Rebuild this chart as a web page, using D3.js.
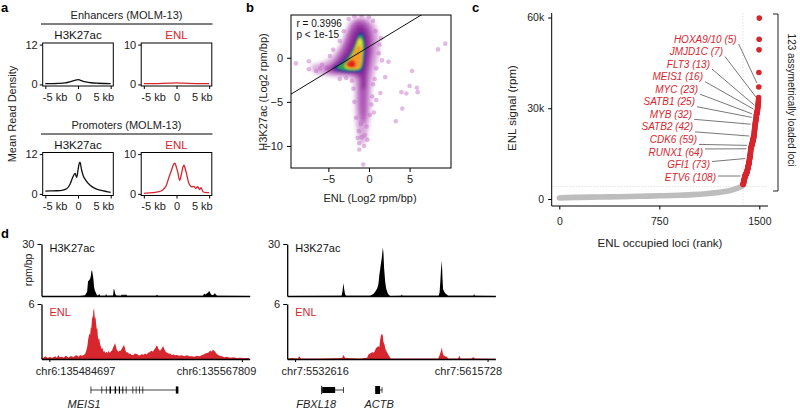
<!DOCTYPE html>
<html><head><meta charset="utf-8">
<script src="https://cdn.jsdelivr.net/npm/d3@7"></script>
<style>
body{margin:0;background:#fff;}
svg{display:block;font-family:"Liberation Sans",Arial,Helvetica,sans-serif;}
</style></head><body>
<svg id="fig" width="800" height="411"></svg>
<script>
// ================= DATA =================
// Panel a: meta-profiles (kb from center, mean read density)
const profileTicks = [-5, 0, 5];
const profileTickLabels = ["-5 kb", "0", "5 kb"];
const enhH3K27acMax = 12, enhENLMax = 10, proH3K27acMax = 12, proENLMax = 10;
const enhH3K27ac = [[-5,0.25],[-4,0.25],[-3,0.3],[-2,0.45],[-1.5,0.65],[-1,0.9],[-0.5,1.2],[-0.2,1.4],[0,1.45],[0.3,1.3],[0.7,1.0],[1.2,0.75],[2,0.5],[3,0.35],[4,0.28],[5,0.25]];
const enhENL = [[-5,0.2],[-3,0.2],[-1,0.3],[0,0.4],[1,0.3],[3,0.22],[5,0.2]];
const proH3K27ac = [[-5,0.85],[-4.3,0.9],[-3.3,0.95],[-2.3,1.15],[-1.7,1.6],[-1.2,3.0],[-0.8,5.0],[-0.45,6.2],[-0.2,5.0],[-0.05,6.5],[0.15,8.9],[0.3,9.6],[0.55,7.2],[0.8,5.5],[1.2,4.1],[1.85,2.6],[2.6,1.65],[3.4,1.15],[4.4,0.7],[5,0.45]];
const proENL = [[-5,0.15],[-3.6,0.3],[-2.85,0.5],[-2.1,1.0],[-1.55,2.2],[-1.15,4.2],[-0.8,5.8],[-0.45,7.4],[-0.25,7.7],[0,6.6],[0.2,5.4],[0.48,3.4],[0.75,5.0],[1.0,6.8],[1.15,7.2],[1.35,6.2],[1.6,4.6],[1.9,2.6],[2.3,1.8],[2.65,1.9],[2.95,1.4],[3.25,1.8],[3.55,1.1],[3.75,1.6],[4.05,0.55],[4.6,0.3],[5,0.3]];

// Panel b: ENL vs H3K27ac (log2 rpm/bp)
const bTicksX = [-5, 0, 5];
const bTicksY = [0, -5, -10];
const corrR = "0.3996", corrP = "1e-15";
const fitIntercept = 1.25, fitSlope = 0.56;
const haloOuter = [[-7.2,-1.0],[-6,-0.6],[-5,-0.2],[-4,0.8],[-3.3,2.0],[-2.8,3.2],[-2.2,4.2],[-1.3,4.6],[-0.2,4.5],[0.7,3.8],[1.2,2.5],[1.3,1.0],[1.0,-0.5],[0.6,-2],[0.3,-4],[0.2,-6],[-0.1,-8],[-0.4,-9.5],[-1.0,-9.8],[-1.5,-8],[-1.7,-5.5],[-1.8,-3.2],[-2.2,-2.3],[-3.5,-2.2],[-5,-2.0],[-6.5,-1.8]];
const haloMid = [[-5.5,-1.2],[-4.5,-0.6],[-3.6,0.6],[-3.0,1.8],[-2.5,3.0],[-2.0,3.9],[-1.2,4.3],[-0.4,4.1],[0.2,3.4],[0.5,2.2],[0.5,0.8],[0.2,-0.8],[-0.1,-2.5],[-0.2,-5],[-0.4,-7],[-0.8,-7.5],[-1.2,-6],[-1.3,-4],[-1.4,-2.3],[-2.5,-1.9],[-4,-1.8],[-5.2,-1.6]];
const haloInner = [[-4.8,-1.2],[-3.9,-0.5],[-3.0,0.6],[-2.4,1.8],[-1.9,3.0],[-1.4,3.6],[-0.8,3.7],[-0.3,3.1],[0,2],[0,0.5],[-0.2,-0.8],[-0.4,-2],[-0.5,-3.5],[-0.9,-3.5],[-1.0,-2.2],[-1.5,-1.8],[-2.5,-1.75],[-4,-1.6]];
const densityBlue = [[-4.3,-1.15],[-3.5,-0.6],[-2.6,0.2],[-1.9,1.2],[-1.5,2.2],[-1.2,2.8],[-0.9,2.9],[-0.6,2.4],[-0.45,1.2],[-0.55,0],[-0.7,-1.1],[-1.0,-1.55],[-2.0,-1.65],[-3.2,-1.55],[-4.0,-1.4]];
const densityGreen = [[-3.9,-1.1],[-3.2,-0.6],[-2.5,0.1],[-1.9,1.1],[-1.5,2.0],[-1.2,2.5],[-0.95,2.55],[-0.7,2.1],[-0.6,1.0],[-0.7,0],[-0.85,-1.0],[-1.1,-1.35],[-2.0,-1.45],[-3.2,-1.35]];
const densityYellow = [[-3.0,-0.9],[-2.4,-0.2],[-1.8,0.8],[-1.45,1.7],[-1.15,2.2],[-0.9,2.0],[-0.8,1.0],[-0.85,0],[-1.0,-0.9],[-1.3,-1.25],[-2.2,-1.3],[-2.8,-1.15]];
const densityOrange = [[-2.9,-0.85],[-2.3,-0.2],[-1.8,0.6],[-1.4,1.3],[-1.1,1.4],[-0.95,0.6],[-1.0,-0.5],[-1.2,-1.1],[-2.1,-1.2],[-2.7,-1.05]];
const densityRed = [[-2.8,-0.8],[-2.4,-0.35],[-2.0,-0.25],[-1.7,-0.5],[-1.7,-1.0],[-2.2,-1.15],[-2.6,-1.0]];
const bOutliers = [[-9.0,-0.64],[-7.4,-0.4],[-7.4,-1.3],[-6.5,-1.5],[-6.0,-1.2],[-5.8,-0.8],[-5.2,-1.2],[-4.8,0.2],[-4.4,0.9],
 [9.4,1.6],[8.5,0.95],[5.3,-1.5],[5.0,-3.2],[5.9,-3.4],[6.0,-3.9],[4.0,-3.9],[4.6,-4.05],[4.1,-5.75],[3.3,-7.2],[1.4,-4.0],[2.4,-0.45],[2.0,-2.2],[1.6,-0.3],[1.2,0.5],[0.9,-1.2],[1.3,1.5],[0.8,3.0],[1.5,2.2],[0.5,-3],[0.7,-2.4],
 [-0.7,-12.1],[-1.2,-10.4],[-1.2,-9.7],[-1.25,-8.3],[-0.9,-9.0],[-0.5,-8.8],[-0.6,-10.0],[-1.0,-7.5],[-0.3,-7.8],[0.1,-6.5],[-1.6,-6.8],[-1.8,-5.0],[0.3,-5.3],[0.4,-4.4],[-1.9,-3.5],[-2.1,-2.6],[-2.8,-2.3],[-3.6,-2.4],[0.9,-4.8],[0.6,-6.2],[-0.2,-9.3],[-1.4,-9.1],
 [-2.5,4.4],[-1.8,4.7],[-0.9,4.8],[0.0,4.6],[0.5,4.2],[-3.1,3.0],[-3.6,1.9]];

// Panel c: ENL occupied loci ranked by signal (k rpm)
const totalLoci = 1500;
const cTicksX = [0, 750, 1500];
const cTicksY = [0, 30, 60];
const grayRanks  = [1, 50, 150, 300, 450, 600, 750, 900, 1000, 1100, 1180, 1240, 1290, 1325, 1350, 1365, 1377];
const graySignal = [0.35,0.45,0.55,0.65,0.75,0.9,1.05,1.25,1.45,1.75,2.1,2.5,2.9,3.4,3.8,4.15,4.5];
// top 123 asymmetrically loaded loci, ordered from rank 1 (highest) downwards
const redSignal = [59.8,52.8,49.3,41.8,37.0,33.5,32.6,32.0,31.5,31.1,30.8,30.4,30.1,29.7,29.3,29.0,28.8,28.6,28.4,28.2,
 28.0,27.8,27.6,27.1,26.7,26.4,26.1,25.8,25.5,25.2,24.9,24.6,24.2,23.8,23.4,23.0,22.6,22.2,21.8,21.4,
 21.0,20.7,20.5,20.3,20.1,19.9,19.7,19.5,19.3,19.1,18.9,18.7,18.5,18.3,18.1,18.0,17.9,17.8,17.7,17.4,
 17.2,17.0,16.8,16.6,16.2,15.8,15.4,15.0,14.6,14.3,14.0,13.7,13.5,13.2,12.9,12.6,12.3,12.0,11.8,11.6,
 11.4,11.2,11.0,10.8,10.6,10.4,10.2,10.0,9.8,9.6,9.4,9.2,9.0,8.9,8.8,8.7,8.6,8.5,8.4,8.3,
 8.2,8.1,8.0,7.9,7.8,7.7,7.65,7.6,7.4,7.2,7.0,6.8,6.6,6.4,6.2,6.0,5.8,5.6,5.4,5.2,5.0,4.9,4.8];
const cutoffSignal = 4.1;
const geneLabels = ["HOXA9/10","JMJD1C","FLT3","MEIS1","MYC","SATB1","MYB","SATB2","CDK6","RUNX1","GFI1","ETV6"];
const geneRanks  = [5,7,13,16,23,25,32,42,59,64,73,108];

// Panel d: genome browser tracks (kb from region start, rpm/bp)
const regionLeft  = {chr:"chr6", start:135484697, end:135567809, gene:"MEIS1"};
const regionRight = {chr:"chr7", start:5532616, end:5615728};
const trackDomainKb = [-3.4, 86.5];
const h3Max = 30, enlMax = 6;
const leftH3K27ac = [[-3.4,0],[13.2,0],[15.4,0.4],[16.3,2.5],[16.7,8.5],[17.1,9],[17.6,10],[17.9,11.5],[18.1,14],[18.4,15],[18.7,12.5],[19.0,10],[19.3,5],[19.7,3],[20.2,1.5],[20.6,0.5],[21.0,0.2],[21.5,1.3],[21.9,0.2],[24.2,0.2],[24.5,1.3],[24.8,0.2],[27.5,0.3],[27.8,4.2],[28.1,3.5],[28.4,1.5],[28.8,0.3],[30.9,0.2],[31.4,1.0],[31.8,0.3],[32.3,1.0],[32.6,0.3],[33.1,1.0],[33.5,0.2],[46.0,0.1],[46.5,0.7],[46.9,0.1],[66.3,0.2],[66.8,1.3],[67.4,0.9],[67.9,1.4],[68.6,2.0],[69.0,3.0],[69.4,2.0],[69.8,0.8],[70.7,0.5],[71.4,1.6],[71.8,1.0],[72.4,0.1],[86.5,0]];
const rightH3K27ac = [[-3.4,0],[20.1,0.1],[20.5,3],[20.86,7.5],[21.2,4],[21.6,1],[22.0,0.1],[32.4,0.2],[33.8,1.2],[34.6,2.5],[35.5,4.5],[36.0,7],[36.4,12.3],[37.0,18],[37.45,22],[37.9,28],[38.15,25],[38.45,16],[38.9,8.4],[39.3,4.5],[40.0,1.6],[40.6,0.4],[41.2,0],[45.8,0.1],[46.1,1.0],[46.4,0.1],[62.0,0.2],[62.4,2],[62.7,8],[63.0,15],[63.37,20.5],[63.67,10],[63.9,4],[64.4,2.5],[64.9,1.5],[65.5,0.8],[66.1,0.2],[77.0,0.1],[77.3,1.2],[77.6,0.1],[86.5,0]];
const leftENL = [[-3.4,0.1],[-2.6,0.15],[-1.6,0.3],[-0.8,0.1],[0.3,0.25],[1.0,0.12],[1.7,0.2],[2.5,0.3],[3.2,0.15],[3.9,0.45],[4.5,0.2],[5.4,0.25],[6.2,0.15],[7.0,0.35],[7.5,0.3],[8.3,0.15],[9.0,0.3],[9.7,0.3],[10.4,0.2],[11.1,0.35],[11.8,0.4],[12.6,0.25],[13.3,0.45],[14.0,0.35],[14.7,0.4],[15.4,0.55],[15.9,0.9],[16.4,1.4],[16.8,2.2],[17.3,2.8],[17.6,2.6],[17.9,3.5],[18.1,3.3],[18.3,4.0],[18.6,4.7],[18.8,4.5],[19.0,5.3],[19.3,5.5],[19.5,4.8],[19.7,4.4],[19.9,4.6],[20.2,3.8],[20.5,3.2],[20.7,3.4],[20.9,2.5],[21.2,2.1],[21.5,2.3],[21.9,1.6],[22.2,1.4],[22.6,1.1],[23.0,1.2],[23.3,0.8],[23.7,0.9],[24.1,0.65],[24.5,0.75],[24.8,0.8],[25.1,0.6],[25.5,0.9],[25.8,0.75],[26.2,0.7],[26.6,0.85],[27.0,0.9],[27.3,1.1],[27.6,1.3],[28.0,1.5],[28.4,1.75],[28.7,1.4],[29.1,1.0],[29.4,0.9],[29.8,0.8],[30.3,0.9],[30.8,0.9],[31.2,1.1],[31.7,1.3],[32.0,1.45],[32.3,1.5],[32.6,1.2],[32.8,1.0],[33.1,0.8],[33.4,0.7],[33.9,0.75],[34.4,0.55],[34.9,0.6],[35.5,0.45],[36.3,0.45],[36.9,0.6],[37.8,0.55],[38.5,0.4],[39.2,0.4],[39.9,0.55],[40.6,0.45],[41.3,0.6],[42.1,0.5],[42.7,0.7],[43.2,0.7],[43.7,0.85],[44.2,0.9],[44.7,0.8],[45.2,1.0],[45.8,1.2],[46.4,1.5],[46.8,1.3],[47.1,1.1],[47.5,0.95],[47.8,0.9],[48.2,1.0],[48.6,1.2],[49.2,1.4],[49.6,1.1],[50.0,0.9],[50.4,0.75],[50.7,0.7],[51.4,0.6],[52.1,0.6],[52.8,0.45],[53.6,0.5],[54.3,0.4],[55.0,0.45],[56.0,0.35],[57.2,0.4],[58.2,0.3],[59.4,0.4],[60.4,0.3],[61.5,0.3],[62.6,0.25],[63.7,0.35],[64.8,0.3],[65.8,0.4],[66.6,0.5],[67.3,0.6],[68.0,0.65],[68.7,0.7],[69.2,0.85],[69.7,0.9],[70.2,0.8],[70.6,1.05],[71.1,0.9],[71.6,0.8],[72.1,0.6],[72.6,0.5],[73.5,0.35],[74.5,0.3],[75.5,0.2],[76.6,0.25],[78.0,0.15],[79.5,0.2],[81.0,0.1],[82.4,0.15],[84.0,0.1],[86.0,0.1],[86.5,0]];
const rightENL = [[-3.4,0.05],[-1.3,0.1],[1.2,0.05],[1.7,0.3],[2.6,0.05],[10.8,0.05],[20.3,0.1],[20.9,0.45],[21.6,0.1],[28.1,0.05],[31.1,0.15],[31.7,0.5],[32.4,0.6],[33.3,0.75],[34.1,0.7],[35.0,1.2],[35.9,1.4],[36.4,1.3],[36.7,2.0],[37.1,2.6],[37.6,2.75],[37.9,2.5],[38.1,1.9],[38.6,1.6],[39.0,1.1],[39.6,0.8],[40.2,0.5],[40.7,0.3],[41.3,0.05],[61.8,0.05],[62.4,0.4],[62.9,0.8],[63.4,1.25],[63.7,0.7],[64.1,0.4],[64.8,0.3],[65.5,0.25],[66.1,0.05],[70.4,0.05],[71.0,0.35],[71.5,0.05],[76.0,0.05],[77.0,0.2],[77.8,0.05],[86.5,0.03]];
// gene models: exon intervals (kb) and line span
const meis1Span = [17.9, 55.7];
const meis1Exons = [[17.8,18.1],[22.5,22.8],[24.4,24.7],[26.0,26.6],[28.2,28.8],[30.0,30.5],[31.5,31.9],[33.0,33.3],[35.9,36.2],[37.3,37.6],[38.8,39.1],[40.2,40.5],[54.6,55.7]];
const fbxl18Span = [11.5, 20.9];
const fbxl18Exons = [[11.3,11.7],[11.7,17.3],[20.7,20.95]];
const actbSpan = [34.6, 37.6];
const actbExons = [[34.6,36.7],[37.4,37.6]];
const geneNamesLeft = [["MEIS1", 15.0]];
const geneNamesRight = [["FBXL18", 9.1],["ACTB", 36.3]];

// ================= DRAWING =================
const RED = "#d7262e";
const svg = d3.select("#fig");
svg.append("rect").attr("width",800).attr("height",411).attr("fill","#fff");

function txt(x, y, s, opts={}) {
  const t = svg.append("text").attr("x",x).attr("y",y).text(s)
    .attr("font-size", opts.size || 11).attr("fill", opts.fill || "#222")
    .attr("text-anchor", opts.anchor || "start");
  if (opts.weight) t.attr("font-weight", opts.weight);
  if (opts.style) t.attr("font-style", opts.style);
  if (opts.rotate !== undefined) t.attr("transform", `rotate(${opts.rotate},${x},${y})`);
  return t;
}
function styleAxis(g, size) {
  g.attr("font-family", null).attr("font-size", size);
  g.selectAll("line").attr("stroke","#000");
  g.selectAll("text").attr("fill","#222");
}
const intFmt = d3.format("d");

// panel labels
txt(1, 12, "a", {size:13, weight:"bold", fill:"#000"});
txt(246, 12, "b", {size:13, weight:"bold", fill:"#000"});
txt(472, 12, "c", {size:13, weight:"bold", fill:"#000"});
txt(1, 238, "d", {size:13, weight:"bold", fill:"#000"});

// ---------- Panel a ----------
function profile(left, top, data, ymax, color) {
  const w = 70.6, h = 43;
  const x = d3.scaleLinear([-5.4, 5.4], [left, left + w]);
  const y = d3.scaleLinear([-0.04 * ymax, 1.04 * ymax], [top + h, top]);
  svg.append("path").datum(data)
    .attr("d", d3.line().x(d => x(d[0])).y(d => y(d[1])).curve(d3.curveMonotoneX))
    .attr("fill","none").attr("stroke",color).attr("stroke-width",1.3);
  svg.append("rect").attr("x",left).attr("y",top).attr("width",w).attr("height",h)
    .attr("fill","none").attr("stroke","#000").attr("stroke-width",1);
  const ya = svg.append("g").attr("transform",`translate(${left},0)`)
    .call(d3.axisLeft(y).tickValues([0, ymax]).tickSize(3).tickPadding(2).tickFormat(intFmt));
  ya.select(".domain").remove(); styleAxis(ya, 11);
  const xa = svg.append("g").attr("transform",`translate(0,${top + h})`)
    .call(d3.axisBottom(x).tickValues(profileTicks).tickSize(3).tickPadding(4)
      .tickFormat((d, i) => profileTickLabels[i]));
  xa.select(".domain").remove(); styleAxis(xa, 11);
  xa.selectAll("text").attr("text-anchor", (d, i) => i === 0 ? "start" : (i === 2 ? "end" : "middle"))
    .attr("dx", (d, i) => i === 0 ? -3 : (i === 2 ? 3 : 0));
}
function sectionHeader(yoff, title) {
  txt(126.5, 19 + yoff, title, {size:11, anchor:"middle"});
  svg.append("line").attr("x1",41).attr("x2",212.5).attr("y1",24 + yoff).attr("y2",24 + yoff)
    .attr("stroke","#000").attr("stroke-width",1);
  txt(78, 39 + yoff, "H3K27ac", {size:11.5, anchor:"middle", fill:"#111"});
  txt(176.5, 39 + yoff, "ENL", {size:11.5, anchor:"middle", fill:RED});
}
sectionHeader(0, "Enhancers (MOLM-13)");
profile(42.7, 43, enhH3K27ac, enhH3K27acMax, "#111");
profile(141.2, 43, enhENL, enhENLMax, RED);
sectionHeader(110, "Promoters (MOLM-13)");
profile(42.7, 152.5, proH3K27ac, proH3K27acMax, "#111");
profile(141.2, 152.5, proENL, proENLMax, RED);
txt(16, 114, "Mean Read Density", {size:11, anchor:"middle", rotate:-90});

// ---------- Panel b ----------
{
  const L = 291, R = 451, T = 15, B = 168;
  const x = d3.scaleLinear([-9.6, 10.1], [L, R]);
  const y = d3.scaleLinear([-12.5, 4.85], [B, T]);
  const defs = svg.append("defs");
  defs.append("clipPath").attr("id","clipB").append("rect").attr("x",L).attr("y",T).attr("width",R-L).attr("height",B-T);
  defs.append("filter").attr("id","blurHalo").attr("x","-20%").attr("y","-20%").attr("width","140%").attr("height","140%")
    .append("feGaussianBlur").attr("stdDeviation",2.0);
  defs.append("filter").attr("id","blurCore").attr("x","-20%").attr("y","-20%").attr("width","140%").attr("height","140%")
    .append("feGaussianBlur").attr("stdDeviation",0.8);
  const g = svg.append("g").attr("clip-path","url(#clipB)");
  const closed = d3.line().x(d => x(d[0])).y(d => y(d[1])).curve(d3.curveCatmullRomClosed);
  g.selectAll("circle.out").data(bOutliers).join("circle").attr("class","out")
    .attr("cx", d => x(d[0])).attr("cy", d => y(d[1])).attr("r", 2.3)
    .attr("fill", "#c065c3").attr("fill-opacity", 0.45);
  const halo = g.append("g").attr("filter","url(#blurHalo)");
  halo.append("path").attr("d", closed(haloOuter)).attr("fill","#c070c4").attr("fill-opacity",0.6);
  halo.append("path").attr("d", closed(haloMid)).attr("fill","#a03aaa").attr("fill-opacity",0.75);
  halo.append("path").attr("d", closed(haloInner)).attr("fill","#842695").attr("fill-opacity",0.9);
  const core = g.append("g").attr("filter","url(#blurCore)");
  [[densityBlue,"#22409c"],[densityGreen,"#2fa84c"],[densityYellow,"#e6e22e"],[densityOrange,"#f39a2a"],[densityRed,"#e2231f"]]
    .forEach(([pts, c]) => core.append("path").attr("d", closed(pts)).attr("fill", c));
  // regression line
  const xs = x.domain();
  g.append("line").attr("x1", x(xs[0])).attr("y1", y(fitIntercept + fitSlope * xs[0]))
    .attr("x2", x(xs[1])).attr("y2", y(fitIntercept + fitSlope * xs[1]))
    .attr("stroke","#111").attr("stroke-width",1);
  svg.append("rect").attr("x",L).attr("y",T).attr("width",R-L).attr("height",B-T)
    .attr("fill","none").attr("stroke","#000").attr("stroke-width",1);
  txt(296.5, 27, "r = " + corrR, {size:10, fill:"#111"});
  txt(296.5, 38, "p < " + corrP, {size:10, fill:"#111"});
  const ya = svg.append("g").attr("transform",`translate(${L},0)`)
    .call(d3.axisLeft(y).tickValues(bTicksY).tickSize(4).tickPadding(4).tickFormat(intFmt));
  ya.select(".domain").remove(); styleAxis(ya, 11);
  const xa = svg.append("g").attr("transform",`translate(0,${B})`)
    .call(d3.axisBottom(x).tickValues(bTicksX).tickSize(4).tickPadding(3).tickFormat(intFmt));
  xa.select(".domain").remove(); styleAxis(xa, 11);
  txt(370, 202, "ENL (Log2 rpm/bp)", {size:11, anchor:"middle"});
  txt(267, 92, "H3K27ac (Log2 rpm/bp)", {size:11, anchor:"middle", rotate:-90});
}

// ---------- Panel c ----------
{
  const x = d3.scaleLinear([0, 1500], [559.3, 759.3]);
  const y = d3.scaleLinear([0, 60], [199, 17.5]);
  const axL = 551.7, axB = 206, axT = 13, axR = 768;
  // cutoff guides
  const cutRank = totalLoci - redSignal.length + 0.5;
  svg.append("line").attr("x1", x(cutRank)).attr("x2", x(cutRank)).attr("y1", axT).attr("y2", axB)
    .attr("stroke","#d9d9d9").attr("stroke-width",0.8).attr("stroke-dasharray","1.5,1.5");
  svg.append("line").attr("x1", axL).attr("x2", axR).attr("y1", y(cutoffSignal)).attr("y2", y(cutoffSignal))
    .attr("stroke","#d9d9d9").attr("stroke-width",0.8).attr("stroke-dasharray","1.5,1.5");
  // gray loci
  const grayPts = grayRanks.map((r, i) => [r, graySignal[i]]);
  svg.append("path").datum(grayPts)
    .attr("d", d3.line().x(d => x(d[0])).y(d => y(d[1])).curve(d3.curveMonotoneX))
    .attr("fill","none").attr("stroke","#bdbdbd").attr("stroke-width",5.6).attr("stroke-linecap","round");
  // red loci
  const redPts = redSignal.map((v, i) => [totalLoci - i, v]);
  svg.selectAll("circle.red").data(redPts).join("circle").attr("class","red")
    .attr("cx", d => x(d[0])).attr("cy", d => y(d[1])).attr("r", 2.8).attr("fill", RED);
  // axes
  svg.append("path").attr("d", `M${axL},${axT}V${axB}H${axR}`).attr("fill","none").attr("stroke","#000").attr("stroke-width",1);
  const ya = svg.append("g").attr("transform",`translate(${axL},0)`)
    .call(d3.axisLeft(y).tickValues(cTicksY).tickSize(3.5).tickPadding(4).tickFormat(d => d === 0 ? "0" : d + "k"));
  ya.select(".domain").remove(); styleAxis(ya, 10.5);
  const xa = svg.append("g").attr("transform",`translate(0,${axB})`)
    .call(d3.axisBottom(x).tickValues(cTicksX).tickSize(3.5).tickPadding(8).tickFormat(intFmt));
  xa.select(".domain").remove(); styleAxis(xa, 10.5);
  txt(660, 247, "ENL occupied loci (rank)", {size:11.5, anchor:"middle"});
  txt(516, 108, "ENL signal (rpm)", {size:11.5, anchor:"middle", rotate:-90});
  // gene labels with leader lines
  const labelRightX = [736.7, 723, 710, 703, 698, 695, 692, 693, 697, 703, 710, 716];
  geneLabels.forEach((gname, i) => {
    const cy = 39 + i * 12.55;
    const k = geneRanks[i];
    const px = x(totalLoci - k + 1), py = y(redSignal[k - 1]);
    const sx = labelRightX[i] + 2, sy = Math.max(cy - 3, Math.min(cy + 5, py));
    const dx = px - sx, dy = py - sy, len = Math.hypot(dx, dy);
    const ex = px - dx / len * 4.5, ey = py - dy / len * 4.5;
    svg.append("line").attr("x1", sx).attr("y1", sy).attr("x2", ex).attr("y2", ey)
      .attr("stroke","#555").attr("stroke-width",0.8);
    txt(labelRightX[i], cy + 3.6, `${gname} (${k})`, {size:10, anchor:"end", fill:RED, style:"italic"});
  });
  // bracket
  svg.append("path").attr("d","M773,14H778V191H773").attr("fill","none").attr("stroke","#222").attr("stroke-width",1);
  txt(788, 100, `${redSignal.length} assymetrically loaded loci`, {size:10, anchor:"middle", rotate:90});
}

// ---------- Panel d ----------
function trackPair(x0, x1, region, h3data, enldata, h3Label, geneModels, geneNames, showYTitle) {
  const x = d3.scaleLinear(trackDomainKb, [x0, x1]);
  const kbStart = 0, kbEnd = (region.end - region.start) / 1000;
  const yH = d3.scaleLinear([0, h3Max], [296, 244]);
  const yE = d3.scaleLinear([0, enlMax], [359, 304]);
  const clampH = v => Math.min(v, h3Max), clampE = v => Math.min(v, enlMax);
  svg.append("path").datum(h3data)
    .attr("d", d3.area().x(d => x(d[0])).y0(yH(0)).y1(d => yH(clampH(d[1]))))
    .attr("fill","#000");
  svg.append("path").datum(enldata)
    .attr("d", d3.area().x(d => x(d[0])).y0(yE(0)).y1(d => yE(clampE(d[1]))))
    .attr("fill", RED);
  // y axes
  const ah = svg.append("g").attr("transform",`translate(${x0},0)`)
    .call(d3.axisLeft(yH).tickValues([h3Max]).tickSize(4).tickSizeOuter(0).tickPadding(3).tickFormat(intFmt));
  styleAxis(ah, 11); ah.select(".domain").attr("stroke","#000").attr("stroke-width",1.3);
  const ae = svg.append("g").attr("transform",`translate(${x0},0)`)
    .call(d3.axisLeft(yE).tickValues([enlMax]).tickSize(4).tickSizeOuter(0).tickPadding(3).tickFormat(intFmt));
  styleAxis(ae, 11); ae.select(".domain").attr("stroke","#000").attr("stroke-width",1.3);
  // baselines
  const bh = svg.append("g").attr("transform",`translate(0,${yH(0)})`)
    .call(d3.axisBottom(x).tickValues([]).tickSizeOuter(0));
  bh.select(".domain").attr("stroke","#000").attr("stroke-width",1.3);
  const be = svg.append("g").attr("transform",`translate(0,${yE(0)})`)
    .call(d3.axisBottom(x).tickValues([kbStart, kbEnd]).tickSize(3).tickSizeOuter(0).tickPadding(5)
      .tickFormat((d, i) => `${region.chr}:${i === 0 ? region.start : region.end}`));
  styleAxis(be, 11); be.select(".domain").attr("stroke","#000").attr("stroke-width",1.3);
  be.selectAll("text").attr("text-anchor", (d, i) => i === 0 ? "start" : "end")
    .attr("dx", (d, i) => i === 0 ? -14 : 14);
  txt(x0 + 8, 252, h3Label, {size:11, fill:"#111"});
  txt(x0 + 8, 316, "ENL", {size:11, fill:RED});
  if (showYTitle) txt(32, 270, "rpm/bp", {size:10.5, anchor:"middle", rotate:-90});
  // gene models
  const gy = 390;
  geneModels.forEach(m => {
    svg.append("line").attr("x1", x(m.span[0])).attr("x2", x(m.span[1])).attr("y1", gy).attr("y2", gy)
      .attr("stroke","#111").attr("stroke-width",0.8);
    m.exons.forEach((e, i) => {
      const hh = m.heights ? m.heights[i] : 3.6;
      svg.append("rect").attr("x", x(e[0])).attr("width", Math.max(0.7, x(e[1]) - x(e[0])))
        .attr("y", gy - hh).attr("height", 2 * hh).attr("fill","#000");
    });
  });
  geneNames.forEach(([n, kb]) => txt(x(kb), 408, n, {size:11, anchor:"middle", style:"italic"}));
}
trackPair(41.5, 249.7, regionLeft, leftH3K27ac, leftENL, "H3K27ac",
  [{span: meis1Span, exons: meis1Exons}], geneNamesLeft, true);
trackPair(287.2, 495.4, regionRight, rightH3K27ac, rightENL, "H3K27ac",
  [{span: fbxl18Span, exons: fbxl18Exons, heights:[4.2,3,3]}, {span: actbSpan, exons: actbExons, heights:[4,2.8]}],
  geneNamesRight, false);
</script>
</body></html>
